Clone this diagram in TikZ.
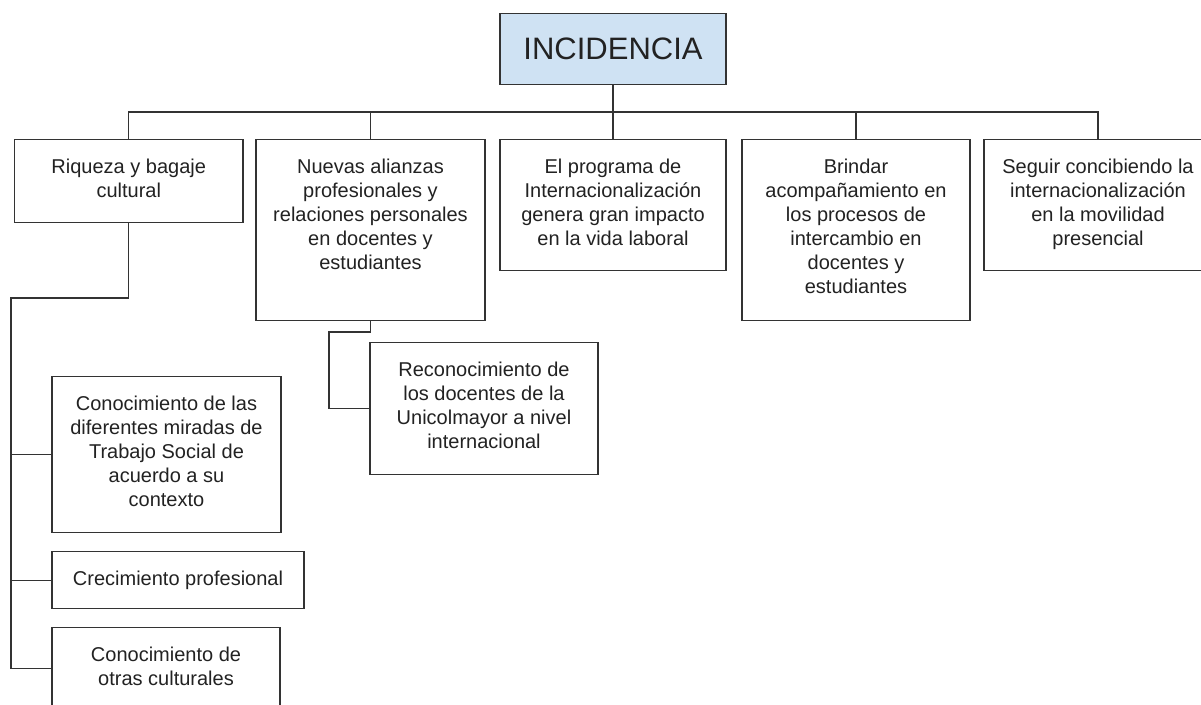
\documentclass[tikz,border=0pt]{standalone}
\usepackage{fontspec}
\setmainfont{Liberation Sans}
\usetikzlibrary{calc}
\definecolor{linea}{HTML}{333333}
\definecolor{texto}{HTML}{222222}
\definecolor{celeste}{HTML}{CFE2F3}
\newcommand{\caja}[3]{\begin{minipage}[t][#2pt][t]{#1pt}\centering\vspace*{17pt}\strut#3\end{minipage}}

\begin{document}
\begin{tikzpicture}[x=1pt,y=-1pt,line width=1.3pt,
  rama/.style={draw=linea,text=texto,inner sep=0pt,anchor=north,font=\fontsize{20}{24}\selectfont},
  raiz/.style={draw=linea,fill=celeste,text=texto,minimum width=226pt,minimum height=71pt,anchor=north,font=\fontsize{31}{36}\selectfont}]
\clip (0,0) rectangle (1201,704);
\fill[white] (0,0) rectangle (1201,704);
\node[raiz] (inc) at (613,13) {INCIDENCIA};
\node[rama] (riq) at (128.75,139) {\caja{228.5}{83}{Riqueza y bagaje\\cultural}};
\node[rama] (ali) at (370.5,139) {\caja{229}{181}{Nuevas alianzas\\profesionales y\\relaciones personales\\en docentes y\\estudiantes}};
\node[rama] (prog) at (613,139) {\caja{226}{131}{El programa de\\Internacionalización\\genera gran impacto\\en la vida laboral}};
\node[rama] (bri) at (856,139) {\caja{228}{181}{Brindar\\acompañamiento en\\los procesos de\\intercambio en\\docentes y\\estudiantes}};
\node[rama] (seg) at (1098,139) {\caja{228}{131}{Seguir concibiendo la\\internacionalización\\en la movilidad\\presencial}};
\node[rama] (rec) at (484,342) {\caja{228}{132}{Reconocimiento de\\los docentes de la\\Unicolmayor a nivel\\internacional}};
\node[rama] (mir) at (166.5,376) {\caja{229}{156}{Conocimiento de las\\diferentes miradas de\\Trabajo Social de\\acuerdo a su\\contexto}};
\node[rama] (cre) at (178,551) {\caja{252}{57}{Crecimiento profesional}};
\node[rama] (otr) at (166,627) {\caja{228}{82}{Conocimiento de\\otras culturales}};
\coordinate (bus) at (0,112);
\coordinate (eje) at (11,298);
\coordinate (codo) at (329,332);
\draw[linea] (riq.north) |- (bus -| seg.north) -- (seg.north);
\draw[linea] (inc.south) -- (prog.north);
\foreach \b in {ali,bri}{\draw[linea] (\b.north) -- (\b.north |- bus);}
\draw[linea] (riq.south) |- (eje) |- (otr.west);
\foreach \b in {mir,cre}{\draw[linea] (eje |- \b.west) -- (\b.west);}
\draw[linea] (ali.south) |- (codo) |- (rec.west);
\end{tikzpicture}
\end{document}
